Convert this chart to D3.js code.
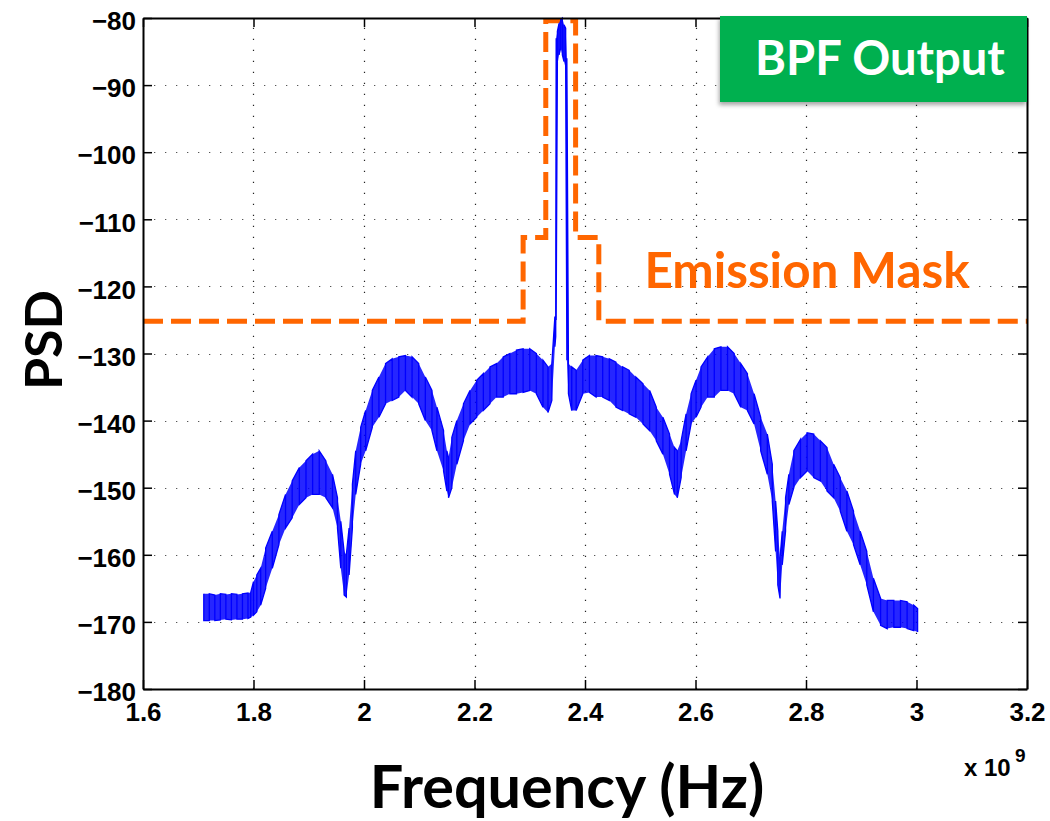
<!DOCTYPE html>
<html>
<head>
<meta charset="utf-8">
<script src="https://cdn.jsdelivr.net/npm/d3@7"></script>
<style>
  body { margin: 0; background: #fff; }
  svg { display: block; }
</style>
</head>
<body>
<svg id="chart" width="1050" height="821"></svg>
<script>
// Power spectral density at the band-pass filter output (frequency in GHz).
// The trace is noisy, so each frequency carries the upper and lower edge of the noise band.
const freqGHz = [
  1.710, 1.720, 1.730, 1.740, 1.750, 1.760, 1.770, 1.780, 1.790, 1.795,
  1.800, 1.806, 1.813, 1.822, 1.834, 1.846, 1.858, 1.870, 1.883, 1.895,
  1.907, 1.919, 1.931, 1.943, 1.952, 1.958, 1.964, 1.968, 1.973, 1.979,
  1.985, 1.994, 2.003, 2.015, 2.027, 2.039, 2.051, 2.063, 2.075, 2.087,
  2.099, 2.111, 2.123, 2.132, 2.144, 2.150, 2.153, 2.159, 2.168, 2.180,
  2.192, 2.204, 2.216, 2.228, 2.240, 2.252, 2.264, 2.276, 2.288, 2.300,
  2.312, 2.324, 2.333, 2.340, 2.3455, 2.347, 2.3478, 2.350, 2.353, 2.356,
  2.359, 2.362, 2.365, 2.3672, 2.370, 2.376, 2.384, 2.396, 2.408, 2.420,
  2.432, 2.444, 2.456, 2.468, 2.480, 2.492, 2.505, 2.517, 2.529, 2.541,
  2.553, 2.562, 2.567, 2.574, 2.583, 2.592, 2.601, 2.610, 2.622, 2.634,
  2.646, 2.658, 2.670, 2.682, 2.694, 2.706, 2.718, 2.730, 2.739, 2.745,
  2.749, 2.753, 2.757, 2.763, 2.769, 2.778, 2.790, 2.802, 2.814, 2.826,
  2.838, 2.850, 2.862, 2.874, 2.886, 2.898, 2.910, 2.922, 2.935, 2.947,
  2.959, 2.971, 2.983, 2.995, 3.002
];
const psdHigh = [
  -165.8, -165.8, -166.0, -165.8, -165.9, -165.8, -165.9, -165.8, -165.7, -165.6,
  -164.0, -163.0, -162.0, -159.0, -156.5, -154.0, -151.0, -149.0, -147.0, -146.0,
  -145.0, -144.5, -146.0, -148.0, -151.5, -155.0, -159.5, -160.0, -156.0, -149.5,
  -144.5, -141.0, -138.5, -135.5, -133.5, -131.5, -130.8, -130.5, -130.3, -130.5,
  -131.5, -133.5, -135.5, -138.0, -141.5, -144.5, -145.5, -142.5, -140.0, -137.5,
  -135.5, -134.0, -133.0, -132.0, -131.5, -130.5, -130.0, -129.5, -129.3, -129.3,
  -130.0, -131.0, -132.0, -131.5, -124.5, -124.5, -83.0, -82.0, -80.8, -80.2,
  -80.0, -81.0, -81.5, -86.0, -131.5, -132.0, -132.5, -131.0, -130.3, -130.3,
  -130.5, -130.8, -131.3, -132.0, -132.5, -133.5, -134.5, -135.5, -138.0, -139.5,
  -142.0, -144.0, -144.5, -143.0, -139.0, -136.0, -134.0, -132.0, -130.5, -129.3,
  -129.0, -129.0, -130.0, -131.5, -133.0, -136.0, -139.5, -142.0, -146.5, -152.0,
  -156.5, -160.5, -156.5, -151.5, -148.0, -144.5, -142.8, -141.8, -142.0, -143.0,
  -144.0, -146.5, -148.5, -150.5, -153.5, -156.5, -159.5, -163.5, -166.5, -166.8,
  -166.8, -166.8, -167.0, -167.5, -168.0
];
const psdLow = [
  -169.8, -169.8, -169.8, -169.7, -169.6, -169.7, -169.6, -169.6, -169.5, -169.3,
  -169.0, -168.5, -167.5, -165.0, -162.0, -158.5, -156.0, -154.5, -152.5, -151.5,
  -151.0, -151.0, -151.5, -153.0, -156.0, -162.0, -166.0, -166.3, -163.0, -156.0,
  -151.0, -146.5, -144.5, -141.0, -139.5, -137.5, -137.0, -136.5, -135.5, -136.5,
  -137.5, -140.0, -141.5, -144.5, -147.5, -150.5, -151.5, -150.0, -146.5, -143.0,
  -140.5, -139.5, -138.5, -137.5, -136.5, -136.5, -136.0, -136.0, -135.8, -135.5,
  -136.0, -138.0, -138.8, -137.0, -129.0, -127.5, -125.0, -87.0, -85.5, -84.5,
  -85.5, -86.5, -87.5, -131.0, -136.0, -138.5, -138.5, -136.0, -135.8, -136.5,
  -136.5, -137.0, -138.0, -138.5, -139.0, -139.5, -140.5, -141.5, -143.0, -145.0,
  -148.0, -151.0, -151.5, -148.5, -144.5, -140.5, -139.5, -138.0, -136.5, -136.5,
  -135.5, -135.5, -136.0, -138.0, -138.5, -140.5, -144.5, -148.0, -152.0, -159.5,
  -164.5, -166.5, -161.5, -156.5, -152.5, -150.0, -148.5, -147.5, -148.5, -149.0,
  -150.5, -151.5, -153.5, -156.5, -158.5, -161.5, -164.5, -168.5, -170.5, -171.0,
  -170.8, -170.8, -171.0, -171.3, -171.5
];

// Spectral emission mask (step levels, dB).
const maskFreq = [1.6, 2.288, 2.329, 2.383, 2.425, 3.2];
const maskLevel = [-125.2, -112.7, -80.4, -112.7, -125.2, -125.2];

// Axis ticks.
const xTicks = [1.6, 1.8, 2.0, 2.2, 2.4, 2.6, 2.8, 3.0, 3.2];
const yTicks = [-180, -170, -160, -150, -140, -130, -120, -110, -100, -90, -80];

const svg = d3.select("#chart");
const plot = { left: 143, right: 1027, top: 18, bottom: 689 };

const x = d3.scaleLinear().domain([1.6, 3.2]).range([plot.left, plot.right]);
const y = d3.scaleLinear().domain([-180, -80]).range([plot.bottom, plot.top]);

const tickFont = "'Liberation Sans', Arial, Helvetica, sans-serif";
const titleFont = "Lato, 'Open Sans', sans-serif";

// Dotted grid
const grid = svg.append("g").attr("class", "grid")
  .attr("stroke", "#222").attr("stroke-width", 1.2).attr("stroke-dasharray", "1.3,9.7");
grid.selectAll("line.gx").data(xTicks.slice(1, -1)).join("line")
  .attr("class", "gx")
  .attr("x1", d => Math.round(x(d)) + 0.5).attr("x2", d => Math.round(x(d)) + 0.5)
  .attr("y1", plot.bottom).attr("y2", plot.top);
grid.selectAll("line.gy").data(yTicks.slice(1, -1)).join("line")
  .attr("class", "gy")
  .attr("y1", d => Math.round(y(d)) + 0.5).attr("y2", d => Math.round(y(d)) + 0.5)
  .attr("x1", plot.left).attr("x2", plot.right)
  .attr("stroke", "#555");

// Emission mask (drawn under the trace)
const maskPts = maskFreq.map((f, i) => [f, maskLevel[i]]);
svg.append("path")
  .datum(maskPts)
  .attr("fill", "none")
  .attr("stroke", "#ff6600")
  .attr("stroke-width", 5)
  .attr("stroke-dasharray", "20,8")
  .attr("d", d3.line().x(d => x(d[0])).y(d => y(d[1])).curve(d3.curveStepAfter));

// PSD noise band: filled envelope plus a zig-zag between the edges
const psd = freqGHz.map((f, i) => ({ f, hi: psdHigh[i], lo: psdLow[i] }));
svg.append("path")
  .datum(psd)
  .attr("fill", "#0000ff")
  .attr("fill-opacity", 0.85)
  .attr("d", d3.area().x(d => x(d.f)).y0(d => y(d.lo)).y1(d => y(d.hi)));

const zig = [];
psd.forEach((d, i) => {
  if (i % 2 === 0) { zig.push([d.f, d.hi]); zig.push([d.f, d.lo]); }
  else { zig.push([d.f, d.lo]); zig.push([d.f, d.hi]); }
});
svg.append("path")
  .datum(zig)
  .attr("fill", "none")
  .attr("stroke", "#0000ff")
  .attr("stroke-width", 1.3)
  .attr("d", d3.line().x(d => x(d[0])).y(d => y(d[1])));

// Axes box with inward ticks on all four sides
const fmtX = d3.format("~g");
const axB = svg.append("g").attr("transform", `translate(0,${plot.bottom})`)
  .call(d3.axisBottom(x).tickValues(xTicks).tickSizeInner(-9).tickSizeOuter(0).tickPadding(14).tickFormat(fmtX));
const axT = svg.append("g").attr("transform", `translate(0,${plot.top})`)
  .call(d3.axisTop(x).tickValues(xTicks).tickSizeInner(-9).tickSizeOuter(0).tickFormat(""));
const axL = svg.append("g").attr("transform", `translate(${plot.left},0)`)
  .call(d3.axisLeft(y).tickValues(yTicks).tickSizeInner(-9).tickSizeOuter(0).tickPadding(7));
const axR = svg.append("g").attr("transform", `translate(${plot.right},0)`)
  .call(d3.axisRight(y).tickValues(yTicks).tickSizeInner(-9).tickSizeOuter(0).tickFormat(""));

[axB, axT, axL, axR].forEach(a => {
  a.select(".domain").attr("stroke", "#000").attr("stroke-width", 2);
  a.selectAll(".tick line").attr("stroke", "#000").attr("stroke-width", 1.5);
  a.selectAll("text").attr("fill", "#000")
    .style("font-family", tickFont).style("font-weight", "bold").style("font-size", "26px");
});
axB.selectAll("text").attr("dy", "0.71em");
axL.selectAll("text").attr("dy", "0.45em");

// Helper: scale a text's font size so it spans the given width
function fitWidth(sel, width) {
  const base = parseFloat(sel.style("font-size"));
  const w = sel.node().getComputedTextLength();
  sel.style("font-size", (base * width / w).toFixed(1) + "px");
}

// Exponent note
svg.append("text").attr("x", 964).attr("y", 776)
  .style("font-family", tickFont).style("font-weight", "bold").style("font-size", "24px")
  .text("x 10");
svg.append("text").attr("x", 1015).attr("y", 762)
  .style("font-family", tickFont).style("font-weight", "bold").style("font-size", "19px")
  .text("9");

// Axis titles
const xt = svg.append("text").attr("x", 567).attr("y", 808)
  .attr("text-anchor", "middle")
  .style("font-family", titleFont).style("font-weight", "bold").style("font-size", "56px")
  .text("Frequency (Hz)");
fitWidth(xt, 395);

const yt = svg.append("text")
  .attr("transform", "translate(62,340) rotate(-90)")
  .attr("text-anchor", "middle")
  .style("font-family", titleFont).style("font-weight", "bold").style("font-size", "56px")
  .text("PSD");
fitWidth(yt, 100);

// Mask annotation
const mt = svg.append("text").attr("x", 807).attr("y", 288)
  .attr("text-anchor", "middle").attr("fill", "#ff6600")
  .style("font-family", titleFont).style("font-weight", "bold").style("font-size", "44px")
  .text("Emission Mask");
fitWidth(mt, 325);

// Output label badge
const defs = svg.append("defs");
const sh = defs.append("filter").attr("id", "badgeShadow")
  .attr("x", "-10%").attr("y", "-10%").attr("width", "120%").attr("height", "130%");
sh.append("feDropShadow").attr("dx", -1).attr("dy", 3).attr("stdDeviation", 2)
  .attr("flood-color", "#000").attr("flood-opacity", 0.35);
svg.append("rect").attr("x", 720).attr("y", 16).attr("width", 307).attr("height", 86)
  .attr("fill", "#00b050").attr("filter", "url(#badgeShadow)");
const bt = svg.append("text").attr("x", 880).attr("y", 75)
  .attr("text-anchor", "middle").attr("fill", "#fff")
  .style("font-family", titleFont).style("font-weight", "bold").style("font-size", "42px")
  .text("BPF Output");
fitWidth(bt, 250);
</script>
</body>
</html>
